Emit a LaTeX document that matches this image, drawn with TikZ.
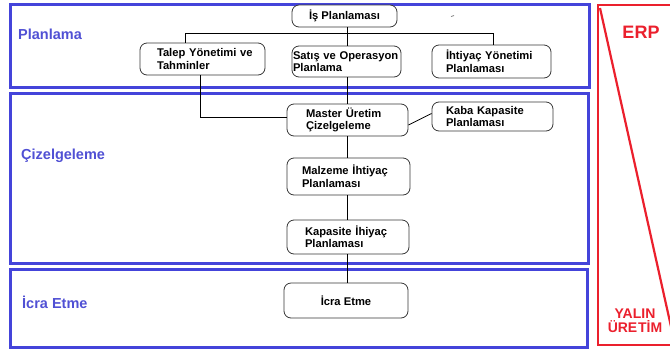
\documentclass[tikz,border=0pt]{standalone}
\usepackage{fontspec}
\setmainfont{Liberation Sans}
\definecolor{frameblue}{RGB}{68,68,218}
\definecolor{labelblue}{RGB}{80,80,212}
\definecolor{erpred}{RGB}{235,32,45}
\definecolor{boxline}{RGB}{55,55,55}
\tikzset{
  frame/.style={draw=frameblue, line width=3pt},
  phase/.style={anchor=west, text=labelblue, font=\bfseries\fontsize{14.5}{16}\selectfont, inner sep=0pt},
  proc/.style={draw=boxline, line width=0.8pt, rounded corners=7pt, fill=white,
    font=\bfseries\fontsize{11.2}{12.5}\selectfont, align=left, inner ysep=1pt},
  link/.style={draw=black, line width=0.8pt},
}
\begin{document}
\begin{tikzpicture}[x=1pt,y=-1pt]
\useasboundingbox (0,0) rectangle (670,349);
\clip (0,0) rectangle (670,349);

% phase frames
\draw[frame] (10.5,4.5) rectangle (589,87.5);
\draw[frame] (10.5,93.5) rectangle (588,263);
\draw[frame] (10.5,269.5) rectangle (587,347);

\node[phase] (lplan) at (18,34) {Planlama};
\node[phase] (lciz) at (21,156) {Çizelgeleme};
\node[phase] (licra) at (22,302) {İcra Etme};

% ERP / lean production band
\draw[draw=erpred, line width=2pt] (598,5) rectangle (690,345);
\coordinate (dtop) at (600,8);
\coordinate (dbot) at (672,331);
\draw[draw=erpred, line width=2.2pt] (dtop) -- (dbot);
\node[text=erpred, font=\bfseries\fontsize{18}{20}\selectfont] (erp) at (641,32) {ERP};
\node[text=erpred, font=\bfseries\fontsize{14}{15}\selectfont, align=center, inner sep=0pt] (yalin) at (635,321) {YALIN\\[-1pt]ÜRE\kern0.8ptTİM};

% process boxes (each line kept whole in an \mbox)
\node[proc, align=center, minimum width=105pt, minimum height=22pt] (is) at (344.5,16) {\mbox{İş Planlaması}};
\node[proc, text width=91pt, inner xsep=17pt, minimum height=32pt] (talep) at (202.5,59) {\mbox{Talep Yönetimi ve}\\\mbox{Tahminler}};
\node[proc, text width=107pt, inner xsep=1pt, minimum height=31pt] (satis) at (346.5,61.5) {\mbox{Satış ve Operasyon}\\\mbox{Planlama}};
\node[proc, text width=91pt, inner xsep=14pt, minimum height=33pt] (ihtiyac) at (491.5,61.5) {\mbox{İhtiyaç Yönetimi}\\\mbox{Planlaması}};
\node[proc, text width=83pt, inner xsep=19pt, minimum height=32pt] (master) at (347.5,120) {\mbox{Master Üretim}\\\mbox{Çizelgeleme}};
\node[proc, text width=93pt, inner xsep=14pt, minimum height=29pt] (kaba) at (492.5,116.5) {\mbox{Kaba Kapasite}\\\mbox{Planlaması}};
\node[proc, text width=93pt, inner xsep=15pt, minimum height=37pt] (malzeme) at (348.5,176.5) {\mbox{Malzeme İhtiyaç}\\\mbox{Planlaması}};
\node[proc, text width=86pt, inner xsep=18pt, minimum height=34pt] (kapasite) at (348,237) {\mbox{Kapasite İhiyaç}\\\mbox{Planlaması}};
\node[proc, align=center, minimum width=124pt, minimum height=35pt] (icra) at (346,300.5) {\mbox{İcra Etme}};

% connectors
\coordinate (spine) at (347,0);
\coordinate (busL) at (185,33);
\coordinate (busR) at (493,33);
\draw[link] (busL) -- (busR);
\draw[link] (busL) -- (busL |- talep.north);
\draw[link] (busR) -- (busR |- ihtiyac.north);
\draw[link] (is.south -| spine) -- (satis.north -| spine);
\draw[link] (satis.south -| spine) -- (master.north -| spine);
\draw[link] (talep.south -| 200,0) |- ([yshift=3pt]master.west);
\draw[link] ([yshift=-5pt]master.east) -- ([yshift=3pt]kaba.west);
\draw[link] (master.south -| spine) -- (malzeme.north -| spine);
\draw[link] (malzeme.south -| spine) -- (kapasite.north -| spine);
\draw[link] (kapasite.south -| spine) -- (icra.north -| spine);

% small stray mark
\coordinate (m1) at (451,16.5);
\coordinate (m2) at (454,15.5);
\draw[gray, line width=0.8pt] (m1) -- (m2);
\end{tikzpicture}
\end{document}
